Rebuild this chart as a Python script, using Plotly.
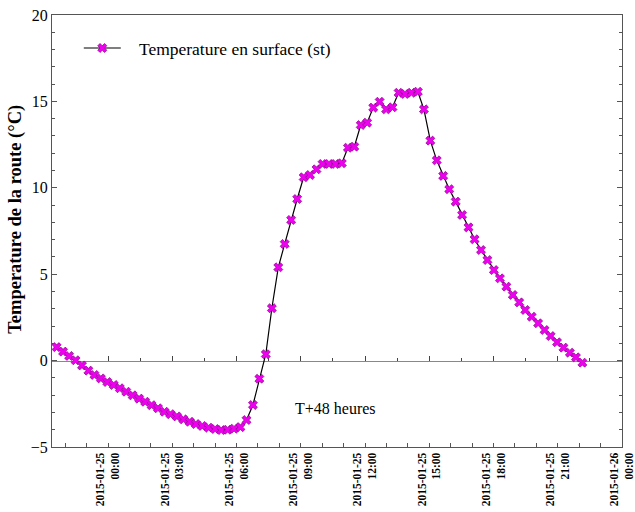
import plotly.graph_objects as go

times = [
    "2015-01-24 21:36", "2015-01-24 21:54", "2015-01-24 22:11", "2015-01-24 22:29",
    "2015-01-24 22:47", "2015-01-24 23:05", "2015-01-24 23:22", "2015-01-24 23:40",
    "2015-01-24 23:58", "2015-01-25 00:16", "2015-01-25 00:33", "2015-01-25 00:51",
    "2015-01-25 01:09", "2015-01-25 01:27", "2015-01-25 01:44", "2015-01-25 02:02",
    "2015-01-25 02:20", "2015-01-25 02:38", "2015-01-25 02:55", "2015-01-25 03:13",
    "2015-01-25 03:31", "2015-01-25 03:49", "2015-01-25 04:06", "2015-01-25 04:24",
    "2015-01-25 04:42", "2015-01-25 05:00", "2015-01-25 05:17", "2015-01-25 05:35",
    "2015-01-25 05:53", "2015-01-25 06:11", "2015-01-25 06:28", "2015-01-25 06:46",
    "2015-01-25 07:04", "2015-01-25 07:22", "2015-01-25 07:39", "2015-01-25 07:57",
    "2015-01-25 08:15", "2015-01-25 08:33", "2015-01-25 08:50", "2015-01-25 09:08",
    "2015-01-25 09:26", "2015-01-25 09:44", "2015-01-25 10:01", "2015-01-25 10:19",
    "2015-01-25 10:37", "2015-01-25 10:55", "2015-01-25 11:12", "2015-01-25 11:30",
    "2015-01-25 11:48", "2015-01-25 12:06", "2015-01-25 12:23", "2015-01-25 12:41",
    "2015-01-25 12:59", "2015-01-25 13:17", "2015-01-25 13:34", "2015-01-25 13:52",
    "2015-01-25 14:10", "2015-01-25 14:28", "2015-01-25 14:45", "2015-01-25 15:03",
    "2015-01-25 15:21", "2015-01-25 15:39", "2015-01-25 15:56", "2015-01-25 16:14",
    "2015-01-25 16:32", "2015-01-25 16:50", "2015-01-25 17:07", "2015-01-25 17:25",
    "2015-01-25 17:43", "2015-01-25 18:01", "2015-01-25 18:18", "2015-01-25 18:36",
    "2015-01-25 18:54", "2015-01-25 19:12", "2015-01-25 19:29", "2015-01-25 19:47",
    "2015-01-25 20:05", "2015-01-25 20:23", "2015-01-25 20:40", "2015-01-25 20:58",
    "2015-01-25 21:16", "2015-01-25 21:34", "2015-01-25 21:51", "2015-01-25 22:09",
]

temperature = [
    0.78, 0.52, 0.27, 0.02, -0.28, -0.58, -0.83, -1.03,
    -1.24, -1.41, -1.60, -1.80, -2.01, -2.20, -2.38, -2.58,
    -2.76, -2.96, -3.10, -3.23, -3.40, -3.54, -3.67, -3.78,
    -3.88, -3.96, -4.02, -4.00, -3.94, -3.85, -3.44, -2.57,
    -1.05, 0.37, 3.03, 5.40, 6.75, 8.14, 9.35, 10.61,
    10.74, 11.07, 11.38, 11.38, 11.38, 11.42, 12.32, 12.38,
    13.63, 13.77, 14.64, 14.98, 14.54, 14.66, 15.50, 15.43,
    15.50, 15.56, 14.54, 12.73, 11.59, 10.69, 9.92, 9.20,
    8.43, 7.71, 7.02, 6.40, 5.82, 5.24, 4.76, 4.28,
    3.80, 3.37, 2.93, 2.54, 2.16, 1.77, 1.42, 1.06,
    0.75, 0.46, 0.19, -0.12,
]

series_name = "Temperature en surface (st)"
y_title = "Temperature de la route (°C)"
note_text = "T+48 heures"
x_range = ["2015-01-24 21:23", "2015-01-26 00:00"]
y_range = [-5, 20]

FONT = "Liberation Serif, Times New Roman, serif"
HOUR = 3600000

fig = go.Figure()

# helper trace so the zero-line axis is drawn
fig.add_trace(go.Scatter(
    x=times, y=temperature, xaxis="x2", yaxis="y",
    mode="lines", line=dict(width=0), opacity=0,
    showlegend=False, hoverinfo="skip",
))

fig.add_trace(go.Scatter(
    x=times, y=temperature, name="\u00a0\u00a0\u00a0" + series_name,
    mode="lines+markers",
    line=dict(color="black", width=1.2),
    marker=dict(symbol="x", size=8, color="#F000F0",
                line=dict(color="#8B008B", width=0.7)),
))

fig.update_layout(
    width=635, height=512,
    margin=dict(l=52, r=13, t=15, b=65, autoexpand=False),
    paper_bgcolor="white", plot_bgcolor="white",
    font=dict(family=FONT, color="black", size=16),
    showlegend=True,
    legend=dict(x=0.047, y=0.965, xanchor="left", yanchor="top",
                bgcolor="rgba(0,0,0,0)", font=dict(size=17.5, family=FONT),
                itemwidth=37),
    xaxis=dict(
        type="date", range=x_range,
        showgrid=False, zeroline=False,
        showline=True, linecolor="#555", linewidth=1.2, mirror=True,
        ticks="inside", ticklen=4, tickcolor="#555",
        tick0="2015-01-25 00:00", dtick=3 * HOUR,
        tickformat="%Y-%m-%d<br>%H:%M", tickangle=-90,
        ticklabeloverflow="allow",
        tickfont=dict(family=FONT, size=11.5, color="black", weight="bold"),
        minor=dict(ticks="inside", ticklen=4, dtick=HOUR, tickcolor="#555"),
    ),
    xaxis2=dict(
        type="date", range=x_range, overlaying="x", anchor="free",
        position=0.2, side="bottom", layer="below traces",
        showgrid=False, zeroline=False, showticklabels=False,
        showline=True, linecolor="#888", linewidth=1,
        ticks="inside", ticklen=5, tickcolor="#444",
        tick0="2015-01-25 00:00", dtick=3 * HOUR,
        minor=dict(ticks="inside", ticklen=3, dtick=1.5 * HOUR, tickcolor="#444"),
    ),
    yaxis=dict(
        range=y_range, dtick=5,
        showgrid=False, zeroline=False,
        showline=True, linecolor="#555", linewidth=1.2, mirror="ticks",
        ticks="inside", ticklen=5, tickcolor="#555",
        ticklabeloverflow="allow",
        tickfont=dict(family=FONT, size=16, color="black"),
        minor=dict(ticks="inside", ticklen=3, dtick=1, tickcolor="#555"),
    ),
    annotations=[
        dict(text=y_title, xref="paper", yref="paper", x=-0.064, y=0.527,
             xanchor="center", yanchor="middle", textangle=-90, showarrow=False,
             font=dict(family=FONT, size=18.5, color="black", weight="bold")),
        dict(text=note_text, xref="paper", yref="y", x=0.497, y=-2.75,
             xanchor="center", yanchor="middle", showarrow=False,
             font=dict(family=FONT, size=16, color="black")),
    ],
)

fig.write_html(
    "out.html",
    config={"displayModeBar": False},
    post_script="document.body.style.margin='0';",
)
